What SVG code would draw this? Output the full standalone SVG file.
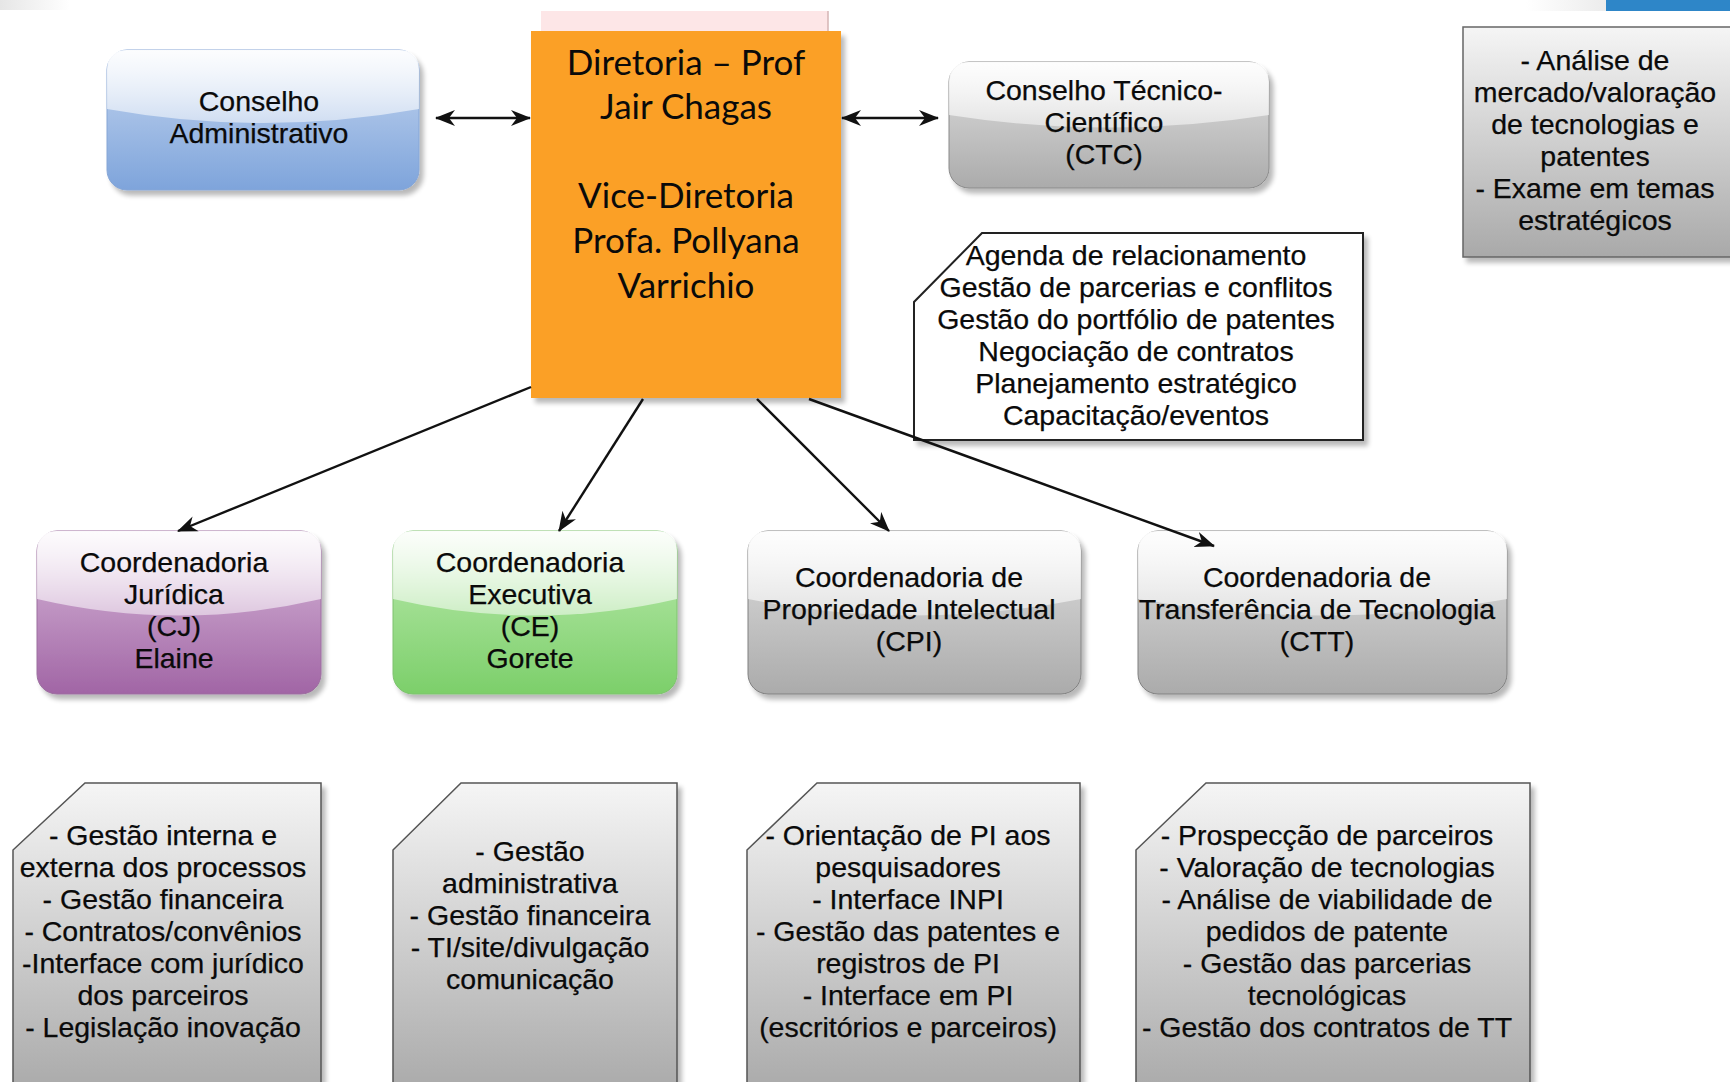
<svg xmlns="http://www.w3.org/2000/svg" width="1730" height="1082" viewBox="0 0 1730 1082">
<defs>
<style>
.t{font-family:"Liberation Sans",Arial,Helvetica,sans-serif;font-size:28.5px;fill:#0a0a0a;text-anchor:middle;stroke:#0a0a0a;stroke-width:0.25}
.c{font-family:Lato,"Liberation Sans",sans-serif;font-size:35px;fill:#0a0a0a;text-anchor:middle}
.hl{fill:url(#hl)}
.cn{fill:none;stroke:#111;stroke-width:2.4}
</style>
<linearGradient id="hl" x1="0" y1="0" x2="0" y2="1"><stop offset="0" stop-color="#fff" stop-opacity="0.95"/><stop offset="1" stop-color="#fff" stop-opacity="0.5"/></linearGradient>
<linearGradient id="bBlue" x1="0" y1="0" x2="0" y2="1"><stop offset="0" stop-color="#c6d7f0"/><stop offset="1" stop-color="#7ea4db"/></linearGradient>
<linearGradient id="bPurple" x1="0" y1="0" x2="0" y2="1"><stop offset="0" stop-color="#d9bcdb"/><stop offset="1" stop-color="#a165a5"/></linearGradient>
<linearGradient id="bGreen" x1="0" y1="0" x2="0" y2="1"><stop offset="0" stop-color="#bdebb0"/><stop offset="1" stop-color="#7ccf6a"/></linearGradient>
<linearGradient id="bGray" x1="0" y1="0" x2="0" y2="1"><stop offset="0" stop-color="#e0e0e0"/><stop offset="1" stop-color="#ababab"/></linearGradient>
<linearGradient id="gCard" x1="0" y1="0" x2="0" y2="1"><stop offset="0" stop-color="#f5f5f5"/><stop offset="1" stop-color="#a9a9a9"/></linearGradient>
<linearGradient id="gFadeL" x1="0" y1="0" x2="1" y2="0"><stop offset="0" stop-color="#e6e6e6"/><stop offset="1" stop-color="#ffffff"/></linearGradient>
<linearGradient id="gFadeR" x1="0" y1="0" x2="1" y2="0"><stop offset="0" stop-color="#ffffff"/><stop offset="1" stop-color="#ececec"/></linearGradient>
<filter id="sh" x="-10%" y="-10%" width="130%" height="130%">
<feGaussianBlur in="SourceAlpha" stdDeviation="2.5"/><feOffset dx="4" dy="5"/>
<feComponentTransfer><feFuncA type="linear" slope="0.28"/></feComponentTransfer>
<feMerge><feMergeNode/><feMergeNode in="SourceGraphic"/></feMerge>
</filter>
<marker id="ar" viewBox="0 0 20 18" refX="19" refY="9" markerWidth="20" markerHeight="18" markerUnits="userSpaceOnUse" orient="auto-start-reverse">
<path d="M0,1 L20,9 L0,17 L6,9 Z" fill="#111"/>
</marker>
</defs>
<rect width="1730" height="1082" fill="#fff"/>
<g id="slide-artifacts">
<rect x="0" y="0" width="70" height="10" fill="url(#gFadeL)"/>
<rect x="1526" y="0" width="80" height="11" fill="url(#gFadeR)"/>
<rect x="1606" y="0" width="124" height="11" fill="#2e86c8"/>
<rect x="541" y="11" width="287" height="22" fill="#fde6e7"/>
<line x1="828" y1="11" x2="828" y2="33" stroke="#d4b4b4" stroke-width="1.5"/>
</g>
<g id="n-admin">
<rect x="107" y="50" width="312" height="140" rx="20" fill="url(#bBlue)" stroke="#86a6d6" filter="url(#sh)"/>
<path class="hl" d="M107,109 L107,70 Q107,50 127,50 L399,50 Q419,50 419,70 L419,109 Q263,137 107,109 Z"/>
<text class="t" x="259" y="111">Conselho</text>
<text class="t" x="259" y="143">Administrativo</text>
</g>
<g id="n-diretoria">
<rect x="531" y="31" width="310" height="367" fill="#fba026" filter="url(#sh)"/>
<text class="c" x="686" y="75">Diretoria – Prof</text>
<text class="c" x="686" y="119">Jair Chagas</text>
<text class="c" x="686" y="208">Vice-Diretoria</text>
<text class="c" x="686" y="253">Profa. Pollyana</text>
<text class="c" x="686" y="298">Varrichio</text>
</g>
<g id="n-ctc">
<rect x="949" y="62" width="320" height="126" rx="20" fill="url(#bGray)" stroke="#8a8a8a" filter="url(#sh)"/>
<path class="hl" d="M949,115 L949,82 Q949,62 969,62 L1249,62 Q1269,62 1269,82 L1269,115 Q1109,140 949,115 Z"/>
<text class="t" x="1104" y="100">Conselho Técnico-</text>
<text class="t" x="1104" y="132">Científico</text>
<text class="t" x="1104" y="164">(CTC)</text>
</g>
<g id="n-ctc-tasks">
<rect x="1463" y="27" width="280" height="230" fill="url(#gCard)" stroke="#666" stroke-width="1.5" filter="url(#sh)"/>
<text class="t" x="1595" y="70">- Análise de</text>
<text class="t" x="1595" y="102">mercado/valoração</text>
<text class="t" x="1595" y="134">de tecnologias e</text>
<text class="t" x="1595" y="166">patentes</text>
<text class="t" x="1595" y="198">- Exame em temas</text>
<text class="t" x="1595" y="230">estratégicos</text>
</g>
<g id="n-diretoria-tasks">
<path d="M914,302 L914,440 L1363,440 L1363,233 L982,233 Z" fill="#fff" stroke="#222" stroke-width="2" filter="url(#sh)"/>
<text class="t" x="1136" y="265">Agenda de relacionamento</text>
<text class="t" x="1136" y="297">Gestão de parcerias e conflitos</text>
<text class="t" x="1136" y="329">Gestão do portfólio de patentes</text>
<text class="t" x="1136" y="361">Negociação de contratos</text>
<text class="t" x="1136" y="393">Planejamento estratégico</text>
<text class="t" x="1136" y="425">Capacitação/eventos</text>
</g>
<g id="n-cj">
<rect x="37" y="531" width="284" height="163" rx="20" fill="url(#bPurple)" stroke="#9c6f9f" filter="url(#sh)"/>
<path class="hl" d="M37,599 L37,551 Q37,531 57,531 L301,531 Q321,531 321,551 L321,599 Q179,632 37,599 Z"/>
<text class="t" x="174" y="572">Coordenadoria</text>
<text class="t" x="174" y="604">Jurídica</text>
<text class="t" x="174" y="636">(CJ)</text>
<text class="t" x="174" y="668">Elaine</text>
</g>
<g id="n-ce">
<rect x="393" y="531" width="284" height="163" rx="20" fill="url(#bGreen)" stroke="#7ec26f" filter="url(#sh)"/>
<path class="hl" d="M393,599 L393,551 Q393,531 413,531 L657,531 Q677,531 677,551 L677,599 Q535,632 393,599 Z"/>
<text class="t" x="530" y="572">Coordenadoria</text>
<text class="t" x="530" y="604">Executiva</text>
<text class="t" x="530" y="636">(CE)</text>
<text class="t" x="530" y="668">Gorete</text>
</g>
<g id="n-cpi">
<rect x="748" y="531" width="333" height="163" rx="20" fill="url(#bGray)" stroke="#808080" filter="url(#sh)"/>
<path class="hl" d="M748,599 L748,551 Q748,531 768,531 L1061,531 Q1081,531 1081,551 L1081,599 Q914,632 748,599 Z"/>
<text class="t" x="909" y="587">Coordenadoria de</text>
<text class="t" x="909" y="619">Propriedade Intelectual</text>
<text class="t" x="909" y="651">(CPI)</text>
</g>
<g id="n-ctt">
<rect x="1138" y="531" width="369" height="163" rx="20" fill="url(#bGray)" stroke="#808080" filter="url(#sh)"/>
<path class="hl" d="M1138,599 L1138,551 Q1138,531 1158,531 L1487,531 Q1507,531 1507,551 L1507,599 Q1322,632 1138,599 Z"/>
<text class="t" x="1317" y="587">Coordenadoria de</text>
<text class="t" x="1317" y="619">Transferência de Tecnologia</text>
<text class="t" x="1317" y="651">(CTT)</text>
</g>
<g id="n-cj-tasks">
<path d="M13,850 L85,783 L321,783 L321,1095 L13,1095 Z" fill="url(#gCard)" stroke="#555" stroke-width="1.5" filter="url(#sh)"/>
<text class="t" x="163" y="845">- Gestão interna e</text>
<text class="t" x="163" y="877">externa dos processos</text>
<text class="t" x="163" y="909">- Gestão financeira</text>
<text class="t" x="163" y="941">- Contratos/convênios</text>
<text class="t" x="163" y="973">-Interface com jurídico</text>
<text class="t" x="163" y="1005">dos parceiros</text>
<text class="t" x="163" y="1037">- Legislação inovação</text>
</g>
<g id="n-ce-tasks">
<path d="M393,850 L461,783 L677,783 L677,1095 L393,1095 Z" fill="url(#gCard)" stroke="#555" stroke-width="1.5" filter="url(#sh)"/>
<text class="t" x="530" y="861">- Gestão</text>
<text class="t" x="530" y="893">administrativa</text>
<text class="t" x="530" y="925">- Gestão financeira</text>
<text class="t" x="530" y="957">- TI/site/divulgação</text>
<text class="t" x="530" y="989">comunicação</text>
</g>
<g id="n-cpi-tasks">
<path d="M747,850 L817,783 L1080,783 L1080,1095 L747,1095 Z" fill="url(#gCard)" stroke="#555" stroke-width="1.5" filter="url(#sh)"/>
<text class="t" x="908" y="845">- Orientação de PI aos</text>
<text class="t" x="908" y="877">pesquisadores</text>
<text class="t" x="908" y="909">- Interface INPI</text>
<text class="t" x="908" y="941">- Gestão das patentes e</text>
<text class="t" x="908" y="973">registros de PI</text>
<text class="t" x="908" y="1005">- Interface em PI</text>
<text class="t" x="908" y="1037">(escritórios e parceiros)</text>
</g>
<g id="n-ctt-tasks">
<path d="M1136,850 L1206,783 L1530,783 L1530,1095 L1136,1095 Z" fill="url(#gCard)" stroke="#555" stroke-width="1.5" filter="url(#sh)"/>
<text class="t" x="1327" y="845">- Prospecção de parceiros</text>
<text class="t" x="1327" y="877">- Valoração de tecnologias</text>
<text class="t" x="1327" y="909">- Análise de viabilidade de</text>
<text class="t" x="1327" y="941">pedidos de patente</text>
<text class="t" x="1327" y="973">- Gestão das parcerias</text>
<text class="t" x="1327" y="1005">tecnológicas</text>
<text class="t" x="1327" y="1037">- Gestão dos contratos de TT</text>
</g>
<g id="connectors">
<line class="cn" x1="436" y1="118" x2="530" y2="118" marker-start="url(#ar)" marker-end="url(#ar)"/>
<line class="cn" x1="842" y1="118" x2="938" y2="118" marker-start="url(#ar)" marker-end="url(#ar)"/>
<line class="cn" x1="531" y1="387" x2="178" y2="531" marker-end="url(#ar)"/>
<line class="cn" x1="643" y1="399" x2="559" y2="531" marker-end="url(#ar)"/>
<line class="cn" x1="757" y1="399" x2="889" y2="531" marker-end="url(#ar)"/>
<line class="cn" x1="809" y1="399" x2="1214" y2="546" marker-end="url(#ar)"/>
</g>
</svg>
